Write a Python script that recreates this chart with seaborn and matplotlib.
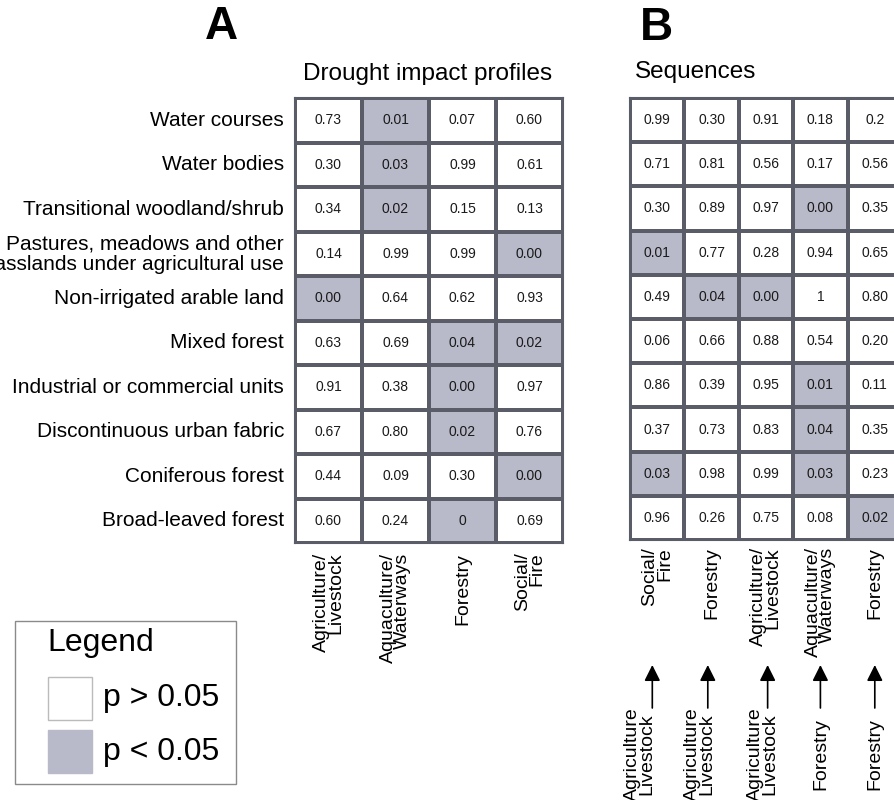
import numpy as np
import matplotlib
matplotlib.use('Agg')
import matplotlib.pyplot as plt
import matplotlib.transforms as mtransforms
from matplotlib.colors import ListedColormap
from matplotlib.patches import Rectangle
import seaborn as sns

# Data
rows_a = ['Water courses', 'Water bodies', 'Transitional woodland/shrub',
          'Pastures, meadows and other\ngrasslands under agricultural use',
          'Non-irrigated arable land', 'Mixed forest',
          'Industrial or commercial units', 'Discontinuous urban fabric',
          'Coniferous forest', 'Broad-leaved forest']
cols_a = ['Agriculture/\nLivestock', 'Aquaculture/\nWaterways', 'Forestry', 'Social/\nFire']
pvals_a = [['0.73', '0.01', '0.07', '0.60'],
           ['0.30', '0.03', '0.99', '0.61'],
           ['0.34', '0.02', '0.15', '0.13'],
           ['0.14', '0.99', '0.99', '0.00'],
           ['0.00', '0.64', '0.62', '0.93'],
           ['0.63', '0.69', '0.04', '0.02'],
           ['0.91', '0.38', '0.00', '0.97'],
           ['0.67', '0.80', '0.02', '0.76'],
           ['0.44', '0.09', '0.30', '0.00'],
           ['0.60', '0.24', '0', '0.69']]

cols_b = ['Social/\nFire', 'Forestry', 'Agriculture/\nLivestock', 'Aquaculture/\nWaterways', 'Forestry']
from_b = ['Agriculture\nLivestock', 'Agriculture\nLivestock', 'Agriculture\nLivestock', 'Forestry', 'Forestry']
pvals_b = [['0.99', '0.30', '0.91', '0.18', '0.2'],
           ['0.71', '0.81', '0.56', '0.17', '0.56'],
           ['0.30', '0.89', '0.97', '0.00', '0.35'],
           ['0.01', '0.77', '0.28', '0.94', '0.65'],
           ['0.49', '0.04', '0.00', '1', '0.80'],
           ['0.06', '0.66', '0.88', '0.54', '0.20'],
           ['0.86', '0.39', '0.95', '0.01', '0.11'],
           ['0.37', '0.73', '0.83', '0.04', '0.35'],
           ['0.03', '0.98', '0.99', '0.03', '0.23'],
           ['0.96', '0.26', '0.75', '0.08', '0.02']]

alpha = 0.05

sns.set_style('white')
plt.rcParams['font.family'] = ['Liberation Sans', 'DejaVu Sans']
plt.rcParams['text.color'] = 'black'
plt.rcParams['xtick.color'] = 'black'
plt.rcParams['ytick.color'] = 'black'

GREY = '#b9bac9'
LINE = '#5a5d68'
cmap = ListedColormap(['white', GREY])


def draw_table(ax, pvals, xlabels, ylabels):
    annot = np.array(pvals)
    sig = (annot.astype(float) < alpha).astype(int)
    sns.heatmap(sig, annot=annot, fmt='', cmap=cmap, vmin=0, vmax=1, cbar=False,
                linewidths=1.5, linecolor=LINE, xticklabels=xlabels,
                yticklabels=ylabels, annot_kws={'size': 10, 'color': '#1a1a1a'}, ax=ax)
    for s in ax.spines.values():
        s.set_visible(True)
        s.set_color(LINE)
        s.set_linewidth(1.5)
    ax.tick_params(length=0)
    for t in ax.get_xticklabels():
        t.set_rotation(90)
        t.set_va('top')
        t.set_ha('center')
        t.set_multialignment('right')
        t.set_linespacing(0.8)
        t.set_fontsize(14)


fig = plt.figure(figsize=(8.95, 8), dpi=100)
W, H = 895.0, 800.0

axA = fig.add_axes([295 / W, 1 - 543 / H, 268 / W, 445 / H])
draw_table(axA, pvals_a, cols_a, rows_a)
axA.tick_params(axis='x', pad=7)
axA.tick_params(axis='y', pad=8)
for t in axA.get_yticklabels():
    t.set_rotation(0)
    t.set_fontsize(15)
    t.set_linespacing(1.1)

axB = fig.add_axes([630 / W, 1 - 540 / H, 272 / W, 442 / H])
draw_table(axB, pvals_b, cols_b, False)
axB.tick_params(axis='x', pad=5)

# panel titles
fig.text(221 / W, 1 - 27 / H, 'A', ha='center', va='center', fontsize=33, fontweight='bold')
fig.text(656 / W, 1 - 28 / H, 'B', ha='center', va='center', fontsize=33, fontweight='bold')
fig.text(428 / W, 1 - 80 / H, 'Drought impact profiles', ha='center', va='baseline', fontsize=17.5)
fig.text(635 / W, 1 - 78 / H, 'Sequences', ha='left', va='baseline', fontsize=17.5)

# sequence origins with arrows
trans = mtransforms.blended_transform_factory(axB.transData, fig.transFigure)
label_shift = [-0.33, -0.22, -0.06, 0, 0]
arrow_shift = [-0.09, -0.07, 0.03, 0, 0]
for i, src in enumerate(from_b):
    fig.text(i + 0.5 + label_shift[i], 1 - 754 / H, src, transform=trans, rotation=90,
             ha='center', va='center', multialignment='center', linespacing=0.8, fontsize=14)
    xa = i + 0.5 + arrow_shift[i]
    axB.annotate('', xy=(xa, 1 - 665 / H), xytext=(xa, 1 - 708 / H),
                 xycoords=trans, textcoords=trans, annotation_clip=False,
                 arrowprops=dict(arrowstyle='-|>', mutation_scale=24, color='black', lw=1.2,
                                 shrinkA=0, shrinkB=0))

# legend box
fig.patches.append(Rectangle((15 / W, 1 - 784 / H), 221 / W, 163 / H, transform=fig.transFigure,
                             fill=False, edgecolor='#8a8a8a', lw=1))
fig.text(47 / W, 1 - 643 / H, 'Legend', ha='left', va='center', fontsize=23)
fig.patches.append(Rectangle((48 / W, 1 - 720 / H), 44 / W, 43 / H, transform=fig.transFigure,
                             facecolor='white', edgecolor='#bbbbbb', lw=1))
fig.patches.append(Rectangle((48 / W, 1 - 773 / H), 44 / W, 43 / H, transform=fig.transFigure,
                             facecolor=GREY, edgecolor=GREY, lw=1))
fig.text(103 / W, 1 - 698 / H, 'p > 0.05', ha='left', va='center', fontsize=23)
fig.text(103 / W, 1 - 752 / H, 'p < 0.05', ha='left', va='center', fontsize=23)

fig.savefig('out.png', dpi=100)
